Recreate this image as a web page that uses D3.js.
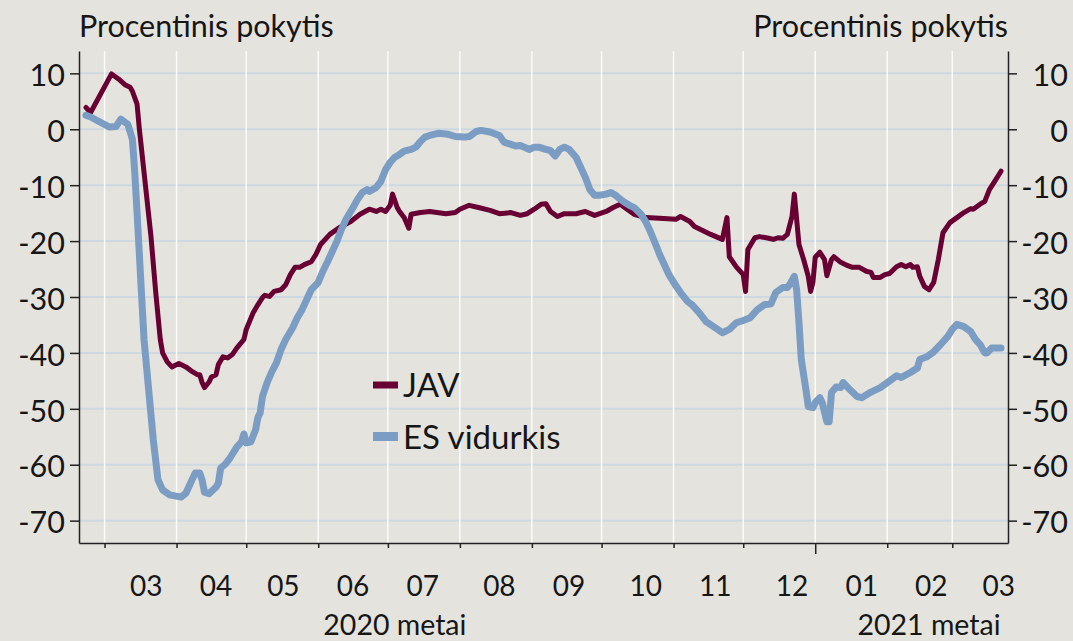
<!DOCTYPE html>
<meta charset="utf-8">
<style>

body {
  margin: 0;
  background: #e4e3de;
}

text {
  font-family: Lato, "Noto Sans", sans-serif;
  fill: #161616;
}

.axis text {
  font-size: 30.5px;
}

.axis path,
.axis line {
  stroke: #222;
  stroke-width: 1.5px;
}

</style>
<body>
<script src="https://cdnjs.cloudflare.com/ajax/libs/d3/7.8.5/d3.min.js"></script>
<script>

// JAV (maroon series)
var javDates = ["2020-02-22","2020-02-24","2020-03-04","2020-03-07","2020-03-10","2020-03-12","2020-03-13","2020-03-15",
  "2020-03-16","2020-03-18","2020-03-21","2020-03-23","2020-03-25","2020-03-26","2020-03-28","2020-03-30",
  "2020-04-02","2020-04-05","2020-04-08","2020-04-10","2020-04-11","2020-04-12","2020-04-13","2020-04-15",
  "2020-04-16","2020-04-18","2020-04-19","2020-04-21","2020-04-23","2020-04-25","2020-04-27","2020-04-30",
  "2020-05-01","2020-05-04","2020-05-06","2020-05-08","2020-05-09","2020-05-11","2020-05-13","2020-05-16",
  "2020-05-18","2020-05-20","2020-05-22","2020-05-24","2020-05-26","2020-05-29","2020-05-31","2020-06-02",
  "2020-06-06","2020-06-10","2020-06-15","2020-06-19","2020-06-23","2020-06-26","2020-06-28","2020-06-30",
  "2020-07-02","2020-07-03","2020-07-05","2020-07-06","2020-07-08","2020-07-10","2020-07-11","2020-07-15",
  "2020-07-19","2020-07-26","2020-07-30","2020-08-01","2020-08-05","2020-08-09","2020-08-14","2020-08-18",
  "2020-08-23","2020-08-27","2020-08-30","2020-09-02","2020-09-05","2020-09-07","2020-09-09","2020-09-12",
  "2020-09-15","2020-09-20","2020-09-24","2020-09-28","2020-10-03","2020-10-06","2020-10-09","2020-10-12",
  "2020-10-15","2020-10-20","2020-10-26","2020-11-02","2020-11-04","2020-11-08","2020-11-10","2020-11-17",
  "2020-11-22","2020-11-24","2020-11-25","2020-11-28","2020-12-01","2020-12-02","2020-12-03","2020-12-06",
  "2020-12-08","2020-12-12","2020-12-14","2020-12-16","2020-12-18","2020-12-20","2020-12-22","2020-12-23",
  "2020-12-25","2020-12-27","2020-12-29","2020-12-30","2020-12-31","2021-01-01","2021-01-03","2021-01-05",
  "2021-01-06","2021-01-08","2021-01-09","2021-01-12","2021-01-15","2021-01-17","2021-01-20","2021-01-23",
  "2021-01-25","2021-01-26","2021-01-29","2021-01-31","2021-02-02","2021-02-05","2021-02-07","2021-02-09",
  "2021-02-11","2021-02-12","2021-02-14","2021-02-15","2021-02-17","2021-02-19","2021-02-21","2021-02-23",
  "2021-02-25","2021-02-28","2021-03-03","2021-03-06","2021-03-09","2021-03-10","2021-03-13","2021-03-15",
  "2021-03-17","2021-03-19","2021-03-22"];
var javValues = [3.9,3.0,9.9,9.0,7.9,7.5,6.8,4.5,
  0,-7.7,-19.2,-29,-37.6,-40,-41.6,-42.5,
  -41.9,-42.5,-43.4,-43.9,-43.9,-45.3,-46.2,-45.2,
  -44.3,-43.9,-42.1,-40.7,-40.9,-40.3,-39.1,-37.6,
  -35.8,-32.8,-31.4,-30.1,-29.7,-29.9,-29.0,-28.7,
  -27.8,-26.0,-24.7,-24.7,-24.2,-23.7,-22.4,-20.6,
  -18.8,-17.6,-16.5,-15.2,-14.3,-14.7,-14.3,-14.7,
  -13.6,-11.6,-14.0,-14.7,-15.8,-17.7,-15.2,-14.9,
  -14.7,-15.1,-14.9,-14.3,-13.6,-14.0,-14.5,-15.1,
  -14.9,-15.4,-15.1,-14.3,-13.4,-13.3,-14.7,-15.6,
  -15.1,-15.1,-14.7,-15.4,-14.7,-14.0,-13.4,-14.3,
  -15.2,-15.8,-15.9,-16.1,-15.6,-16.5,-17.4,-18.8,
  -19.7,-15.8,-22.8,-24.6,-26.0,-29.0,-21.5,-19.4,
  -19.2,-19.5,-19.7,-19.4,-19.5,-18.8,-15.6,-11.6,
  -20.6,-23.3,-26.3,-29.0,-27.4,-22.9,-22.0,-23.3,
  -26.2,-23.3,-22.8,-23.8,-24.4,-24.7,-24.7,-25.4,
  -25.6,-26.5,-26.5,-26.0,-25.8,-24.6,-24.2,-24.6,
  -24.2,-24.7,-24.6,-26.3,-28.1,-28.7,-27.4,-23.3,
  -18.5,-16.7,-15.8,-14.9,-14.2,-14.3,-13.4,-12.9,
  -10.8,-9.5,-7.5];

// ES vidurkis (blue series)
var esDates = ["2020-02-22","2020-02-24","2020-02-28","2020-03-03","2020-03-06","2020-03-08","2020-03-11","2020-03-13",
  "2020-03-14","2020-03-15","2020-03-18","2020-03-20","2020-03-22","2020-03-24","2020-03-26","2020-03-29",
  "2020-04-03","2020-04-05","2020-04-07","2020-04-09","2020-04-11","2020-04-12","2020-04-13","2020-04-15",
  "2020-04-18","2020-04-19","2020-04-20","2020-04-22","2020-04-24","2020-04-27","2020-04-29","2020-04-30",
  "2020-05-01","2020-05-03","2020-05-05","2020-05-06","2020-05-07","2020-05-08","2020-05-10","2020-05-12",
  "2020-05-14","2020-05-16","2020-05-18","2020-05-21","2020-05-23","2020-05-25","2020-05-27","2020-05-29",
  "2020-06-01","2020-06-03","2020-06-05","2020-06-07","2020-06-09","2020-06-11","2020-06-13","2020-06-16",
  "2020-06-18","2020-06-20","2020-06-22","2020-06-23","2020-06-26","2020-06-28","2020-06-30","2020-07-02",
  "2020-07-04","2020-07-06","2020-07-08","2020-07-11","2020-07-13","2020-07-15","2020-07-17","2020-07-19",
  "2020-07-23","2020-07-27","2020-07-30","2020-08-03","2020-08-05","2020-08-08","2020-08-10","2020-08-14",
  "2020-08-18","2020-08-20","2020-08-23","2020-08-25","2020-08-27","2020-08-31","2020-09-02","2020-09-04",
  "2020-09-07","2020-09-09","2020-09-11","2020-09-13","2020-09-15","2020-09-17","2020-09-20","2020-09-22",
  "2020-09-24","2020-09-26","2020-09-28","2020-09-30","2020-10-03","2020-10-05","2020-10-07","2020-10-09",
  "2020-10-11","2020-10-13","2020-10-15","2020-10-18","2020-10-20","2020-10-22","2020-10-24","2020-10-26",
  "2020-10-28","2020-10-30","2020-11-02","2020-11-04","2020-11-07","2020-11-09","2020-11-12","2020-11-15",
  "2020-11-20","2020-11-22","2020-11-25","2020-11-28","2020-12-01","2020-12-04","2020-12-07","2020-12-10",
  "2020-12-13","2020-12-15","2020-12-18","2020-12-20","2020-12-21","2020-12-23","2020-12-24","2020-12-25",
  "2020-12-26","2020-12-28","2020-12-29","2020-12-31","2021-01-01","2021-01-03","2021-01-04","2021-01-06",
  "2021-01-07","2021-01-08","2021-01-10","2021-01-12","2021-01-13","2021-01-16","2021-01-19","2021-01-21",
  "2021-01-25","2021-01-29","2021-02-01","2021-02-05","2021-02-07","2021-02-11","2021-02-14","2021-02-15",
  "2021-02-18","2021-02-21","2021-02-24","2021-02-27","2021-03-01","2021-03-03","2021-03-06","2021-03-09",
  "2021-03-11","2021-03-13","2021-03-15","2021-03-16","2021-03-18","2021-03-22"];
var esValues = [2.5,2.2,1.3,0.4,0.5,1.8,0.9,-1.8,
  -7.7,-14.9,-37.6,-46.6,-55.6,-62.7,-64.5,-65.4,
  -65.8,-65.1,-63.3,-61.5,-61.5,-62.7,-64.9,-65.2,
  -64.0,-63.3,-60.6,-59.9,-58.8,-56.8,-55.9,-54.5,
  -56.1,-55.9,-53.8,-51.6,-50.7,-47.8,-45.3,-43.4,
  -41.8,-39.4,-37.6,-35.5,-33.7,-32.3,-30.5,-28.7,
  -27.4,-25.4,-23.7,-21.9,-20.1,-17.9,-16.1,-14.0,
  -12.5,-11.3,-10.8,-11.1,-10.4,-9.3,-7.2,-5.9,
  -5.0,-4.5,-3.9,-3.6,-3.2,-2.2,-1.4,-1.1,
  -0.7,-0.9,-1.3,-1.4,-1.3,-0.4,-0.2,-0.5,
  -1.1,-2.3,-2.7,-3.0,-2.9,-3.6,-3.2,-3.2,
  -3.6,-3.8,-4.8,-3.6,-3.2,-3.6,-5.0,-6.8,
  -8.6,-10.8,-11.8,-11.8,-11.6,-11.3,-11.8,-12.5,
  -13.1,-13.6,-14.0,-15.2,-16.5,-18.3,-20.3,-22.4,
  -24.2,-26.0,-28.0,-29.2,-30.8,-31.4,-32.8,-34.4,
  -35.8,-36.4,-35.8,-34.6,-34.2,-33.7,-32.3,-31.4,
  -31.2,-29.2,-28.3,-28.3,-27.8,-26.3,-28.7,-34.6,
  -41.2,-46.6,-49.6,-49.8,-48.9,-48.0,-48.9,-52.3,
  -52.3,-47.1,-46.1,-46.2,-45.3,-46.6,-47.8,-48.0,
  -47.0,-46.2,-45.3,-44.1,-44.4,-43.5,-42.7,-41.2,
  -40.7,-39.8,-38.5,-37.1,-35.8,-34.9,-35.3,-36.2,
  -37.6,-38.5,-40.0,-40.0,-39.1,-39.1];

var yTicks = [10, 0, -10, -20, -30, -40, -50, -60, -70];
var monthLabels = ["03","04","05","06","07","08","09","10","11","12","01","02","03"];
var monthLabelDates = ["2020-03-19","2020-04-18","2020-05-17","2020-06-16","2020-07-16","2020-08-18","2020-09-17",
  "2020-10-20","2020-11-19","2020-12-22","2021-01-21","2021-02-20","2021-03-21"];
var yearLabels = ["2020 metai", "2021 metai"];
var yearLabelDates = ["2020-07-04", "2021-02-19"];
var seriesNames = ["JAV", "ES vidurkis"];
var axisTitle = "Procentinis pokytis";

var width = 1073,
    height = 641,
    plotLeft = 79,
    plotRight = 1008,
    plotTop = 51,
    plotBottom = 543;

var colors = ["#680033", "#7b9dc3"];
var widths = [5, 7];

var parse = d3.utcParse("%Y-%m-%d");

var jav = javDates.map(function(d, i) { return {date: parse(d), value: javValues[i]}; });
var es = esDates.map(function(d, i) { return {date: parse(d), value: esValues[i]}; });

var x = d3.scaleUtc()
    .domain([parse("2020-02-19"), parse("2021-03-25")])
    .range([plotLeft, plotRight]);

var y = d3.scaleLinear()
    .domain([-74, 14])
    .range([plotBottom, plotTop]);

var monthStarts = d3.utcMonth.range(parse("2020-03-01"), parse("2021-03-02"));

var svg = d3.select("body").append("svg")
    .attr("width", width)
    .attr("height", height)
    .style("display", "block");

svg.append("rect")
    .attr("width", width)
    .attr("height", height)
    .attr("fill", "#e4e3de");

// grid
svg.append("g").selectAll("line")
    .data(yTicks)
  .enter().append("line")
    .attr("x1", plotLeft)
    .attr("x2", plotRight)
    .attr("y1", function(d) { return y(d); })
    .attr("y2", function(d) { return y(d); })
    .attr("stroke", "#cdd8e1")
    .attr("stroke-width", 2);

svg.append("g").selectAll("line")
    .data(monthStarts)
  .enter().append("line")
    .attr("x1", function(d) { return x(d); })
    .attr("x2", function(d) { return x(d); })
    .attr("y1", plotTop)
    .attr("y2", plotBottom)
    .attr("stroke", "#fbfbfa")
    .attr("stroke-width", 1.5);

// axes
var fmt = function(d) { return String(d); };

var yLeft = svg.append("g")
    .attr("class", "axis")
    .attr("transform", "translate(" + plotLeft + ",0)")
    .call(d3.axisLeft(y).tickValues(yTicks).tickFormat(fmt).tickSize(9).tickSizeOuter(0).tickPadding(5));
yLeft.selectAll("text").attr("dy", "0.4em");

var yRight = svg.append("g")
    .attr("class", "axis")
    .attr("transform", "translate(" + plotRight + ",0)")
    .call(d3.axisRight(y).tickValues(yTicks).tickFormat(fmt).tickSize(9).tickSizeOuter(0));
yRight.selectAll("text")
    .attr("x", 60)
    .attr("dy", "0.4em")
    .attr("text-anchor", "end");

var xAxis = svg.append("g")
    .attr("class", "axis")
    .attr("transform", "translate(0," + plotBottom + ")")
    .call(d3.axisBottom(x).tickValues(monthStarts).tickFormat("").tickSize(5).tickSizeOuter(0));
xAxis.selectAll(".tick line")
    .attr("stroke-width", 1.2)
    .attr("y2", function(d) { return d.getUTCMonth() === 0 ? 11 : 5; });

svg.append("g").selectAll("text")
    .data(monthLabels)
  .enter().append("text")
    .attr("x", function(d, i) { return x(parse(monthLabelDates[i])); })
    .attr("y", 596)
    .attr("text-anchor", "middle")
    .style("font-size", "28px")
    .text(function(d) { return d; });

svg.append("g").selectAll("text")
    .data(yearLabels)
  .enter().append("text")
    .attr("x", function(d, i) { return x(parse(yearLabelDates[i])); })
    .attr("y", 635)
    .attr("text-anchor", "middle")
    .style("font-size", "28.5px")
    .text(function(d) { return d; });

// axis titles
svg.append("text")
    .attr("x", 79)
    .attr("y", 37)
    .style("font-size", "30.5px")
    .text(axisTitle);

svg.append("text")
    .attr("x", 1008)
    .attr("y", 37)
    .attr("text-anchor", "end")
    .style("font-size", "30.5px")
    .text(axisTitle);

// series
var line = d3.line()
    .x(function(d) { return x(d.date); })
    .y(function(d) { return y(d.value); });

[jav, es].forEach(function(s, i) {
  svg.append("path")
      .datum(s)
      .attr("fill", "none")
      .attr("stroke", colors[i])
      .attr("stroke-width", widths[i])
      .attr("stroke-linejoin", "round")
      .attr("stroke-linecap", "round")
      .attr("d", line);
});

// legend
var legend = svg.append("g").selectAll("g")
    .data(seriesNames)
  .enter().append("g")
    .attr("transform", function(d, i) { return "translate(373," + (385 + i * 51.5) + ")"; });

legend.append("line")
    .attr("x1", 0)
    .attr("x2", 25)
    .attr("stroke", function(d, i) { return colors[i]; })
    .attr("stroke-width", function(d, i) { return i ? 9 : 7; });

legend.append("text")
    .attr("x", 30)
    .attr("y", 12)
    .style("font-size", "33px")
    .text(function(d) { return d; });

</script>
